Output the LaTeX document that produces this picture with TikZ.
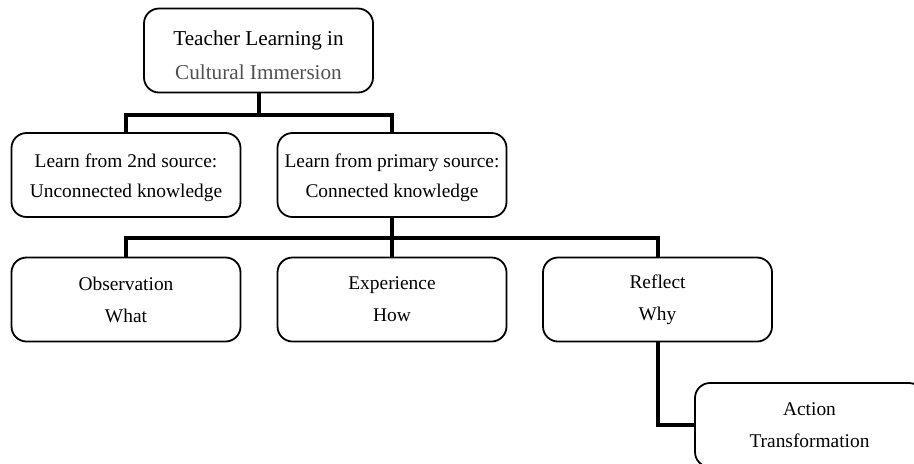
\documentclass[tikz,border=0pt]{standalone}
\definecolor{immgray}{RGB}{80, 80, 80}
\usepackage{fontspec}
\setmainfont{Liberation Serif}
\usepackage{tikz}
\usetikzlibrary{positioning, calc}

\begin{document}
\begin{tikzpicture}[x=0.5pt, y=-0.5pt,
    tbox/.style={draw, line width=0.9pt, rounded corners=7.5pt, align=center, inner sep=0pt,
      minimum width=114.5pt, minimum height=42pt, font=\fontsize{9.7}{16}\selectfont},
    link/.style={line width=2pt}]
  \clip (0,0) rectangle (914,463);
  \useasboundingbox (0,0) rectangle (914,463);

  % top of the tree
  \node[tbox, font=\fontsize{10.6}{17}\selectfont] (teacher) at (258.5,50.5)
    {\rule{0pt}{12.2pt}Teacher Learning in\\ \textcolor{immgray}{Cultural Immersion}};

  % two sources
  \node[tbox, font=\fontsize{9.7}{15}\selectfont] (second) at (126,175)
    {\rule{0pt}{9.6pt}Learn from 2nd source:\\ Unconnected knowledge};
  \node[tbox, font=\fontsize{9.7}{15}\selectfont] (primary) at (392,175)
    {\rule{0pt}{9.6pt}Learn from primary source:\\ Connected knowledge};

  % ways of learning
  \node[tbox] (observe) at (126,299.5) {Observation\\ What};
  \node[tbox] (experience) at (392,299.5) {Experience\\ How};
  \node[tbox] (reflect) at (657.5,299.5) {Reflect\\ Why};
  \node[tbox] (action) at (809.5,425) {Action\\ Transformation};

  % connectors
  \coordinate (split1) at (258.5,115);
  \coordinate (split2) at (392,238);
  \draw[link] (teacher.south) -- (split1);
  \draw[link] (second.north) |- (split1) -| (primary.north);
  \draw[link] (primary.south) -- (experience.north);
  \draw[link] (observe.north) |- (split2) -| (reflect.north);
  \draw[link] (reflect.south) |- (action.west);
\end{tikzpicture}
\end{document}
